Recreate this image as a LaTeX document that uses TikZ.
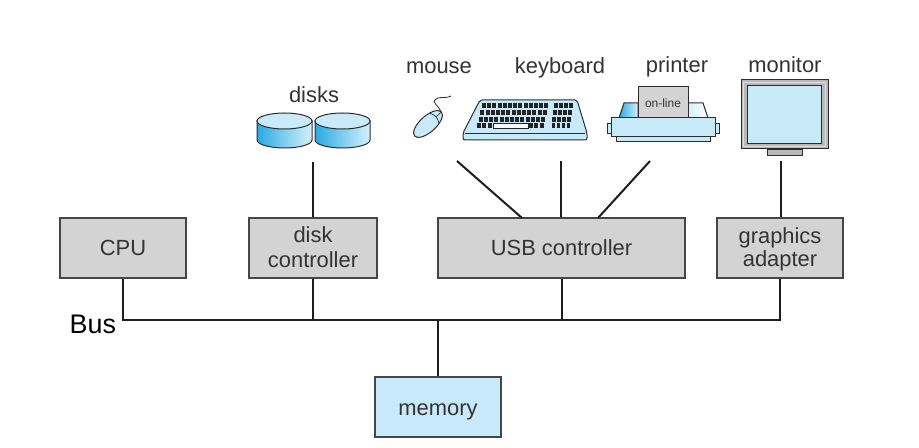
\documentclass[tikz,border=0pt]{standalone}
\usepackage{fontspec}
\setmainfont{Liberation Sans}
\definecolor{boxgray}{RGB}{211,211,211}
\definecolor{boxline}{RGB}{70,70,70}
\definecolor{memblue}{RGB}{200,233,250}
\definecolor{txt}{RGB}{51,51,51}
\definecolor{wirec}{RGB}{30,30,30}
\definecolor{dark}{RGB}{45,45,45}
\definecolor{lightblue}{RGB}{200,233,248}
\definecolor{cyand}{RGB}{40,170,226}
\definecolor{cylight}{RGB}{215,240,251}
\definecolor{toplight}{RGB}{202,234,249}
\definecolor{mongray}{RGB}{185,185,185}
\definecolor{keyc}{RGB}{35,35,35}
\begin{document}
\begin{tikzpicture}[x=1bp,y=-1bp,
  box/.style={draw=boxline, line width=1.3bp, fill=boxgray, minimum height=60bp,
    inner sep=0pt, font=\fontsize{22}{26}\selectfont, text=txt, align=center},
  single/.style={text height=16bp, text depth=0bp},
  wire/.style={draw=wirec, line width=2bp},
  lbl/.style={font=\fontsize{22}{26}\selectfont, text=txt, anchor=base, inner sep=0pt},
  icon/.style={draw=dark, line width=1bp}]
\useasboundingbox[fill=white] (0,0) rectangle (919,448);

% ---- boxes
\node[box, single, minimum width=126bp] (cpu) at (123,248) {CPU};
\node[box, minimum width=128bp] (dc) at (313,248) {};
\node[lbl] (dc1) at (313,243) {disk};
\node[lbl] (dc2) at (313,268) {controller};
\node[box, single, minimum width=247bp] (usb) at (561.5,248) {USB controller};
\node[box, minimum width=126bp] (gfx) at (780,248) {};
\node[lbl] (gfx1) at (780,243.5) {graphics};
\node[lbl] (gfx2) at (780,267) {adapter};
\node[box, single, minimum width=126bp, fill=memblue] (mem) at (438,407) {memory};

\node[font=\fontsize{27}{30}\selectfont, text=black, anchor=base west, inner sep=0pt] (bus) at (69.5,334) {Bus};

% ---- labels
\node[lbl] (ldisks) at (314,103) {disks};
\node[lbl] (lmouse) at (439,74) {mouse};
\node[lbl] (lkbd) at (560,74) {keyboard};
\node[lbl] (lprn) at (677,73) {printer};
\node[lbl] (lmon) at (785,73) {monitor};

% ---- disks
\foreach \cx in {284.5,342.5}{
  \path[icon, left color=cyand, right color=cylight]
    (\cx-27.5,121) -- (\cx-27.5,140)
    arc[start angle=180, end angle=360, x radius=27.5bp, y radius=8bp]
    -- (\cx+27.5,121) -- cycle;
  \draw[icon, fill=toplight] (\cx,121) ellipse[x radius=27.5bp, y radius=8bp];
}

% ---- mouse
\draw[dark, line width=0.8bp] (441,112) .. controls (438,104) and (431,103) .. (436,99)
  .. controls (440,96) and (446,99) .. (451,96);
\begin{scope}[shift={(428,124)}, rotate=42]
  \draw[icon, fill=lightblue] (0bp,0bp) ellipse[x radius=18bp, y radius=8bp];
  \draw[dark, line width=0.7bp] (8.5bp,-7bp) .. controls (11.5bp,-2bp) and (11.5bp,2bp) .. (8.5bp,7bp);
  \draw[dark, line width=0.6bp] (11bp,0bp) -- (18bp,0bp);
\end{scope}

% ---- keyboard
\draw[icon, fill=lightblue, rounded corners=2bp]
  (480,100) -- (577,100) -- (587,133) -- (587,140) -- (463,140) -- (463,133) -- cycle;
\draw[dark, line width=0.6bp] (465,133) -- (585,133);
\foreach \r in {0,1,2}{
  \foreach \c in {0,...,12}{
    \fill[keyc] ({482-1.6*\r+5.2*\c},{103.5+6.6*\r}) rectangle +(4,5);
  }
}
\foreach \c in {0,1,2,10,11,12}{
  \fill[keyc] ({477.2+5.2*\c},123.3) rectangle +(4,5);
}
\draw[keyc, fill=white, line width=0.6bp] (492.8,123.6) rectangle (528.0,128.0);
\foreach \r in {0,1,2,3}{
  \foreach \c in {0,1,2,3}{
    \fill[keyc] ({554-0.8*\r+5*\c},{103.5+6.6*\r}) rectangle +(3.8,5);
  }
}

% ---- printer
\path[icon, left color=cyand, right color=cylight] (624,103) -- (638,103) -- (638,118) -- (619,118) -- cycle;
\path[icon, left color=cylight, right color=white] (688,103) -- (703,103) -- (708,118) -- (688,118) -- cycle;
\draw[icon, fill=boxgray] (638,87) rectangle (688,118);
\node[font=\fontsize{12}{14}\selectfont, text=txt, inner sep=0pt] (online) at (663,103) {on-line};
\draw[icon, fill=lightblue] (607,124) rectangle (611,134);
\draw[icon, fill=lightblue] (715,124) rectangle (719,134);
\draw[icon, fill=lightblue] (611,118) rectangle (715,137);
\draw[icon, fill=lightblue] (616,137) rectangle (710,142);

% ---- monitor
\draw[icon, fill=mongray] (741,80) rectangle (828,149);
\draw[white!75!gray, line width=0.8bp] (743.5,82.5) rectangle (825.5,146.5);
\draw[icon, fill=lightblue] (747,86) rectangle (821,144);
\draw[icon, fill=mongray, line width=0.8bp] (767,149) rectangle (802,155);

% ---- connectors
\coordinate (dskC) at (313,162);
\coordinate (msC) at (457,161);
\coordinate (kbC) at (561,161);
\coordinate (prC) at (650,161);
\coordinate (mnC) at (781,161);
\coordinate (u1) at (522,218);
\coordinate (u3) at (598,218);
\coordinate (busy) at (0,320);
\draw[wire] (dskC) -- (dc.north);
\draw[wire] (msC) -- (u1);
\draw[wire] (kbC) -- (kbC |- usb.north);
\draw[wire] (prC) -- (u3);
\draw[wire] (mnC) -- (mnC |- gfx.north);

\draw[wire] (cpu.south) -- (cpu.south |- busy) -- (gfx.south |- busy) -- (gfx.south);
\draw[wire] (dc.south) -- (dc.south |- busy);
\draw[wire] (usb.south) -- (usb.south |- busy);
\draw[wire] (mem.north) -- (mem.north |- busy);
\end{tikzpicture}
\end{document}
